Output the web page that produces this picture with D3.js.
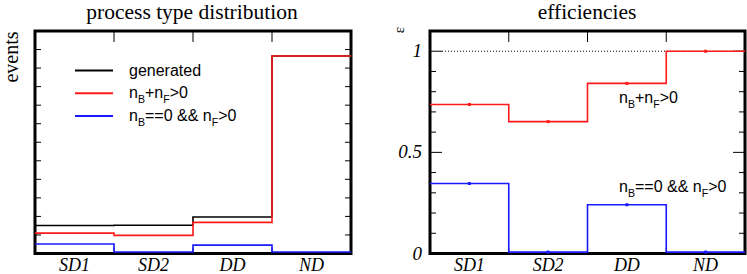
<!DOCTYPE html>
<html>
<head>
<meta charset="utf-8">
<script src="https://cdn.jsdelivr.net/npm/d3@7"></script>
<style>
  body { margin: 0; background: #fff; }
  .serif { font-family: "Liberation Serif", "DejaVu Serif", serif; }
  .sans { font-family: "Liberation Sans", Arial, sans-serif; }
</style>
</head>
<body>
<div id="chart"></div>
<script>
const categories = ["SD1", "SD2", "DD", "ND"];

// left panel: events (arbitrary units)
const generated = [1.51, 1.52, 1.97, 10.65];
const passAny = [1.10, 0.98, 1.68, 10.65];
const passFwdOnly = [0.51, 0.08, 0.45, 0.08];

// right panel: efficiencies
const effAny = [0.737, 0.652, 0.841, 1.0];
const effFwdOnly = [0.346, 0.007, 0.241, 0.007];
const effTicks = [0, 0.5, 1];

const RED = "#ff1a1a", BLUE = "#1a1aff";

const svg = d3.select("#chart").append("svg")
    .attr("width", 747)
    .attr("height", 274);

function panel(x0, x1, yMax, title, titleX) {
    const x = d3.scaleBand().domain(categories).range([x0, x1]).padding(0);
    const y = d3.scaleLinear().domain([0, yMax]).range([253.5, 31]);
    const g = svg.append("g");

    g.append("text")
        .attr("class", "serif")
        .attr("x", titleX)
        .attr("y", 19)
        .attr("text-anchor", "middle")
        .style("font-size", "21.5px")
        .text(title);

    // category labels
    g.selectAll(".cat")
        .data(categories)
        .enter().append("text")
        .attr("class", "serif")
        .attr("x", d => x(d) + x.bandwidth() / 2)
        .attr("y", 271)
        .attr("text-anchor", "middle")
        .style("font-size", "18px")
        .style("font-style", "italic")
        .text(d => d);

    // bin ticks on top and bottom
    categories.slice(1).forEach(c => {
        const xx = x(c);
        g.append("line").attr("x1", xx).attr("x2", xx).attr("y1", y.range()[1]).attr("y2", y.range()[1] + 11)
            .attr("stroke", "#000").attr("stroke-width", 1);
        g.append("line").attr("x1", xx).attr("x2", xx).attr("y1", y.range()[0]).attr("y2", y.range()[0] - 6)
            .attr("stroke", "#000").attr("stroke-width", 1);
    });

    return { x, y, g };
}

function ticksY(p, values, majorFn) {
    values.forEach(v => {
        const len = majorFn(v) ? 12 : 6;
        const yy = p.y(v);
        const [a, b] = p.x.range();
        p.g.append("line").attr("x1", a).attr("x2", a + len).attr("y1", yy).attr("y2", yy)
            .attr("stroke", "#000").attr("stroke-width", 1);
        p.g.append("line").attr("x1", b).attr("x2", b - len).attr("y1", yy).attr("y2", yy)
            .attr("stroke", "#000").attr("stroke-width", 1);
    });
}

function stepLine(p, values, color) {
    const pts = categories.map((c, i) => [p.x(c), values[i]]);
    pts.push([p.x.range()[1], values[values.length - 1]]);
    const line = d3.line()
        .x(d => d[0])
        .y(d => p.y(d[1]))
        .curve(d3.curveStepAfter);
    p.g.append("path")
        .attr("d", line(pts))
        .attr("fill", "none")
        .attr("stroke", color)
        .attr("stroke-width", 1.6);
}

function markers(p, values, color) {
    p.g.selectAll(null)
        .data(values)
        .enter().append("rect")
        .attr("x", (d, i) => p.x(categories[i]) + p.x.bandwidth() / 2 - 1.5)
        .attr("y", d => p.y(d) - 1.5)
        .attr("width", 3)
        .attr("height", 3)
        .attr("fill", color);
}

function frame(p) {
    const [a, b] = p.x.range();
    const [bot, top] = p.y.range();
    p.g.append("rect")
        .attr("x", a).attr("y", top)
        .attr("width", b - a).attr("height", bot - top)
        .attr("fill", "none")
        .attr("stroke", "#000")
        .attr("stroke-width", 3);
}

// text with subscripts: parts are {t} or {sub}
function subText(g, x, y, parts, size) {
    const t = g.append("text").attr("class", "sans").attr("x", x).attr("y", y)
        .style("font-size", size + "px");
    let shifted = false;
    parts.forEach(pt => {
        if (pt.sub) {
            t.append("tspan").attr("dy", 5).style("font-size", (size * 0.66) + "px").text(pt.sub);
            shifted = true;
        } else {
            t.append("tspan").attr("dy", shifted ? -5 : 0).text(pt.t);
            shifted = false;
        }
    });
    return t;
}

// ---------- left panel ----------
const left = panel(35, 351, 12, "process type distribution", 192);
ticksY(left, d3.range(1, 12), () => false);
frame(left);
stepLine(left, generated, "#000");
stepLine(left, passAny, RED);
stepLine(left, passFwdOnly, BLUE);

left.g.append("text")
    .attr("class", "serif")
    .attr("transform", "translate(18,57) rotate(-90)")
    .attr("text-anchor", "middle")
    .style("font-size", "20px")
    .text("events");

// legend
const legendItems = [
    { color: "#000", parts: [{ t: "generated" }] },
    { color: RED, parts: [{ t: "n" }, { sub: "B" }, { t: "+n" }, { sub: "F" }, { t: ">0" }] },
    { color: BLUE, parts: [{ t: "n" }, { sub: "B" }, { t: "==0 && n" }, { sub: "F" }, { t: ">0" }] }
];
legendItems.forEach((d, i) => {
    const ly = 70.5 + i * 22.7;
    left.g.append("line").attr("x1", 75).attr("x2", 113).attr("y1", ly).attr("y2", ly)
        .attr("stroke", d.color).attr("stroke-width", 2);
    subText(left.g, 129, ly + 5, d.parts, 16);
});

// ---------- right panel ----------
const right = panel(430, 745, 1.1, "efficiencies", 587);
ticksY(right, d3.range(1, 11).map(i => i / 10), v => Math.abs(v - 0.5) < 1e-9 || Math.abs(v - 1) < 1e-9);
frame(right);

right.g.append("line")
    .attr("x1", right.x.range()[0] + 12).attr("x2", right.x.range()[1])
    .attr("y1", right.y(1)).attr("y2", right.y(1))
    .attr("stroke", "#000").attr("stroke-width", 1)
    .attr("stroke-dasharray", "1,2");

stepLine(right, effAny, RED);
stepLine(right, effFwdOnly, BLUE);
markers(right, effAny, RED);
markers(right, effFwdOnly, BLUE);

right.g.selectAll(".tl")
    .data(effTicks)
    .enter().append("text")
    .attr("class", "serif")
    .attr("x", 422)
    .attr("y", d => right.y(d) + 6)
    .attr("text-anchor", "end")
    .style("font-size", "19px")
    .style("font-style", "italic")
    .text(d => d);

right.g.append("text")
    .attr("class", "serif")
    .attr("transform", "translate(404,27) rotate(-90)")
    .attr("text-anchor", "end")
    .style("font-size", "15px")
    .text("ε");

subText(right.g, 619, 103, legendItems[1].parts, 16);
subText(right.g, 619, 192, legendItems[2].parts, 16);
</script>
</body>
</html>
